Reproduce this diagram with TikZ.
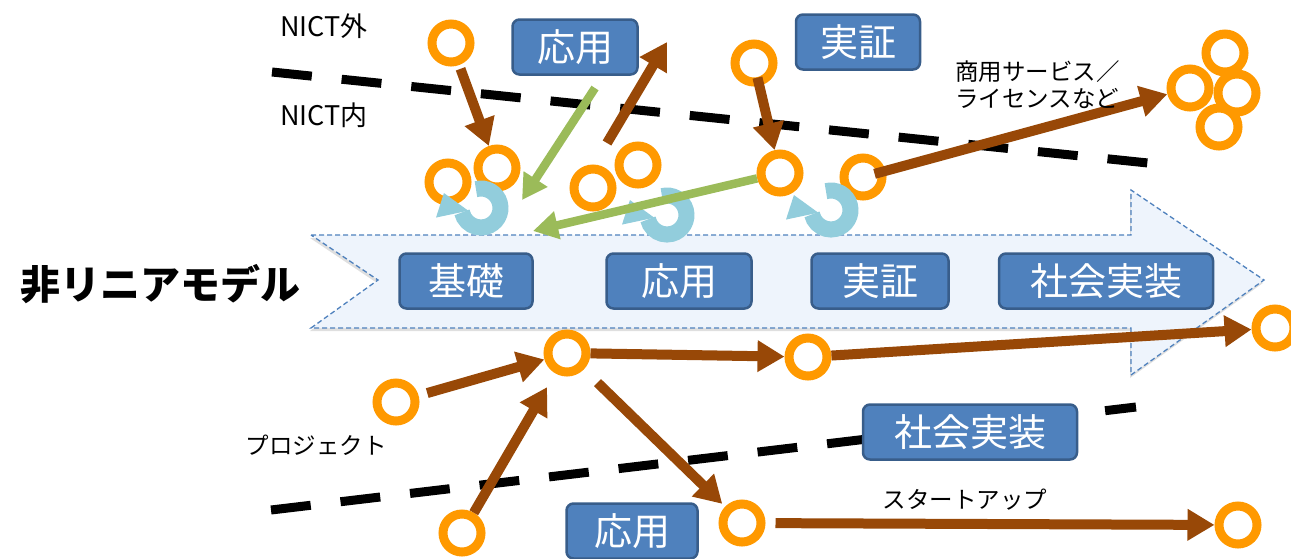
\documentclass[tikz,border=0pt]{standalone}
\usepackage{fontspec}
\setmainfont{Noto Sans CJK JP}
\usetikzlibrary{arrows.meta,shadows}
\definecolor{ringc}{HTML}{FF9900}
\definecolor{brn}{HTML}{984807}
\definecolor{grn}{HTML}{9BBB59}
\definecolor{cycc}{HTML}{92CDDC}
\definecolor{boxf}{HTML}{4F81BD}
\definecolor{boxd}{HTML}{385D8A}
\definecolor{bandf}{HTML}{EEF4FC}
\definecolor{bandd}{HTML}{4F81BD}
\begin{document}
\begin{tikzpicture}[x=1pt,y=-1pt,
  ringnode/.style={circle,draw=ringc,line width=9pt,minimum size=38pt,inner sep=0pt,fill=white},
  cycbody/.style={draw=cycc,line width=16pt},
  cychead/.style={fill=cycc},
  brarrow/.style={draw=brn,line width=10pt,-{Triangle[width=30pt,length=27pt]}},
  grarrow/.style={draw=grn,line width=8.5pt,-{Triangle[width=27pt,length=25pt]}},
  dashline/.style={draw=black,line width=9pt,dash pattern=on 40pt off 30pt},
  boxnode/.style={rounded corners=7pt,fill=boxf,draw=boxd,line width=2.5pt,text=white,
    font=\fontsize{38}{38}\selectfont,minimum height=55pt,inner sep=0pt},
  lab/.style={font=\fontsize{23.5}{27}\selectfont,inner sep=0pt},
  nict/.style={font=\fontsize{27}{29}\selectfont,inner sep=0pt}
]
\useasboundingbox (0,0) rectangle (1291,558);

% band arrow
\path[fill=bandf,draw=bandd,line width=1.3pt,dash pattern=on 5pt off 3pt,
  drop shadow={shadow xshift=-1pt,shadow yshift=-3pt,opacity=0.25}]
  (311,235) -- (1131,235) -- (1131,190) -- (1264,280) -- (1131,375) -- (1131,328)
  -- (311,328) -- (378,280) -- cycle;

% boundary dashed lines
\coordinate (d1a) at (272,72);
\coordinate (d1b) at (1148,163);
\coordinate (d2a) at (271,510);
\coordinate (d2b) at (1136,407);
\draw[dashline] (d1a) -- (d1b);
\draw[dashline] (d2a) -- (d2b);

% circles
\node[ringnode] (c1) at (451,43) {};
\node[ringnode] (c2) at (448,182) {};
\node[ringnode] (c3) at (497,168) {};
\node[ringnode] (c4) at (593,188) {};
\node[ringnode] (c4b) at (638,165) {};
\node[ringnode] (c5) at (754,63) {};
\node[ringnode] (c6) at (780,173) {};
\node[ringnode] (c7) at (863,177) {};
\node[ringnode] (k1) at (1225,53) {};
\node[ringnode] (k2) at (1190,88) {};
\node[ringnode] (k3) at (1237,93) {};
\node[ringnode] (k4) at (1219,127) {};
\node[ringnode] (c8) at (567,353) {};
\node[ringnode] (c9) at (808,357) {};
\node[ringnode] (c10) at (396,402) {};
\node[ringnode] (c11) at (462,533) {};
\node[ringnode] (c12) at (742,523) {};
\node[ringnode] (c13) at (1238,525) {};
\node[ringnode] (c14) at (1275,328) {};

% cycle arrows (canvas angles inside scope)
\coordinate (y1) at (481,208);
\coordinate (y2) at (667,215);
\coordinate (y3) at (831,210);
\foreach \cy in {y1,y2,y3}{
  \begin{scope}[shift={(\cy)},x=1pt,y=1pt]
    \draw[cycbody] (105:19.5) arc[start angle=105,end angle=-167,radius=19.5];
    \fill[cychead] (192:13) -- (192:46) -- (158:40) -- cycle;
  \end{scope}
}

% brown arrows
\coordinate (f1a) at (607,143);
\coordinate (f1b) at (667,42);
\draw[brarrow,shorten <=4pt] (c1) -- (c3);
\draw[brarrow] (f1a) -- (f1b);
\draw[brarrow,shorten <=15pt] (c5.center) -- (c6);
\draw[brarrow,shorten <=12pt] (c7.center) -- (k2);
\draw[brarrow] (c8) -- (c9);
\draw[brarrow,shorten <=9pt] (c10) -- (c8);
\draw[brarrow,shorten >=16pt] (c11) -- (c8);
\draw[brarrow,shorten <=19pt,shorten >=4pt] (c8) -- (c12);
\draw[brarrow,shorten <=10pt] (c12) -- (c13);
\draw[brarrow] (c9) -- (c14);

% green arrows
\coordinate (g1a) at (595,88);
\coordinate (g1b) at (522,200);
\coordinate (g2b) at (533,231);
\draw[grarrow] (g1a) -- (g1b);
\draw[grarrow] (c6) -- (g2b);

% boxes
\node[boxnode,minimum width=125pt] (tApp) at (575,47) {応用};
\node[boxnode,minimum width=124pt] (tDem) at (858,42) {実証};
\node[boxnode,minimum width=133pt] (bBas) at (466,281) {基礎};
\node[boxnode,minimum width=145pt] (bApp) at (679,281) {応用};
\node[boxnode,minimum width=137pt] (bDem) at (880,281) {実証};
\node[boxnode,minimum width=214pt] (bSoc) at (1106,281) {社会実装};
\node[boxnode,minimum width=214pt] (lSoc) at (970,432) {社会実装};
\node[boxnode,minimum width=131pt] (lApp) at (632,531) {応用};

% labels
\node[nict] (nOut) at (324,26) {NICT外};
\node[nict] (nIn) at (324,115) {NICT内};
\node[lab,align=left,anchor=west] (com) at (955,85) {商用サービス／\\ライセンスなど};
\node[lab] (proj) at (316,445) {プロジェクト};
\node[lab] (start) at (965,500) {スタートアップ};
\node[font=\fontsize{40}{40}\selectfont\bfseries,inner sep=0pt] (title) at (160,284) {非リニアモデル};
\end{tikzpicture}
\end{document}
